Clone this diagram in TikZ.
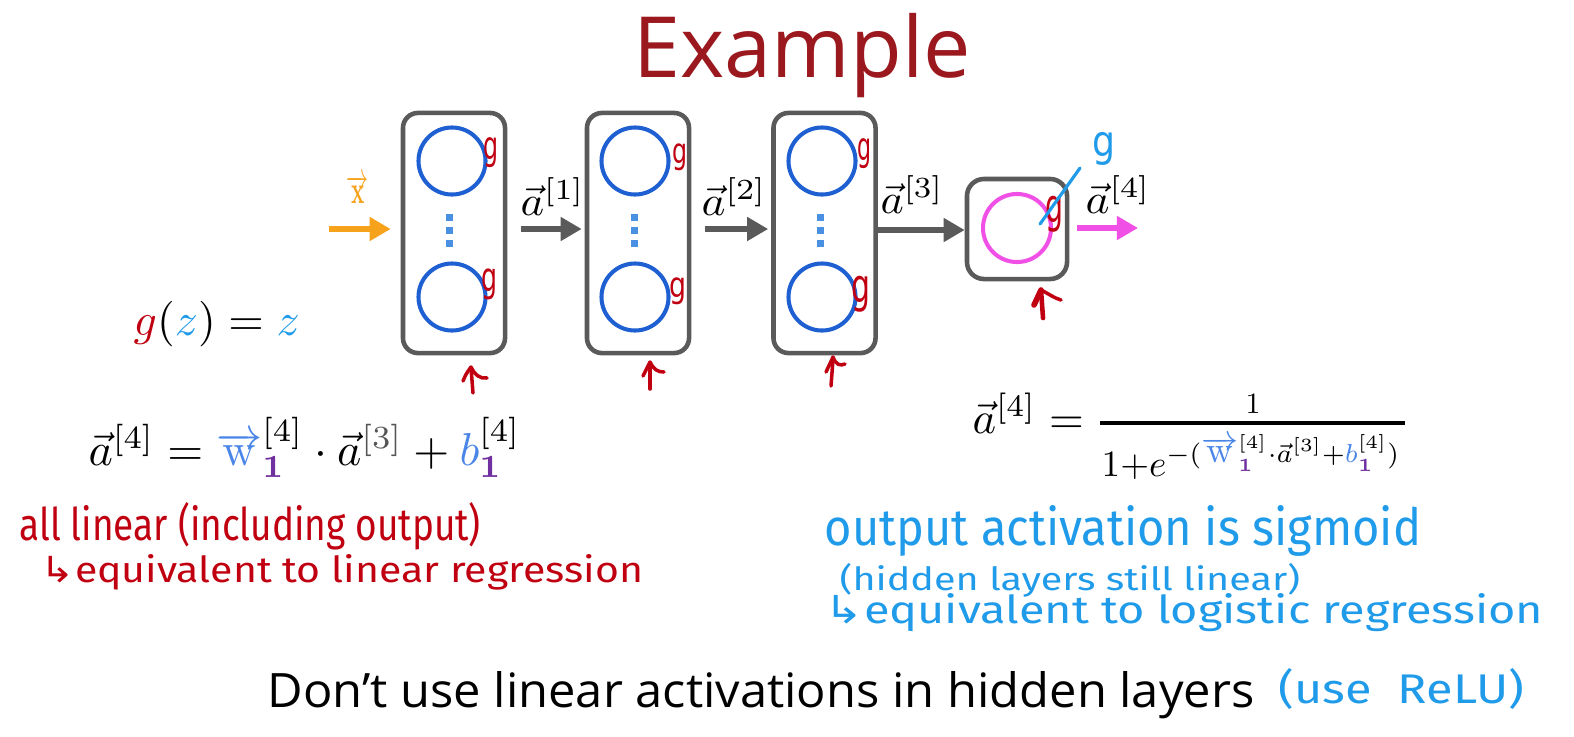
\documentclass[tikz,border=0pt]{standalone}
\usepackage[no-math]{fontspec}
\usepackage{graphicx}
\setmainfont{Open Sans}
\newfontfamily\hand{Fira Sans}
\newfontfamily\dejavu{DejaVu Sans}
\usetikzlibrary{arrows.meta}
\definecolor{titlered}{HTML}{9B191E}
\definecolor{boxgray}{HTML}{5A5A5A}
\definecolor{neublue}{HTML}{1E5FD2}
\definecolor{dotblue}{HTML}{4A90E2}
\definecolor{hred}{HTML}{C00010}
\definecolor{hblue}{HTML}{1F9BEA}
\definecolor{xorange}{HTML}{F7A21B}
\definecolor{magent}{HTML}{F050E6}
\definecolor{wblue}{HTML}{4A86E8}
\definecolor{purp}{HTML}{7030A0}
\definecolor{zblue}{HTML}{1F9BEA}
\definecolor{bgray}{HTML}{555555}
\newcommand{\fitw}[2]{\resizebox{#1}{!}{#2}}
\newcommand{\fitwh}[3]{\resizebox{#1}{#2}{#3}}
\newcommand{\fitwt}[3]{\resizebox*{#1}{#2}{#3}}
\newcommand{\wvec}{\textcolor{wblue}{\overrightarrow{\mathrm{w}}}}
\newcommand{\one}{\textcolor{purp}{\mathbf{1}}}
\begin{document}
\begin{tikzpicture}[x=0.01cm,y=-0.01cm,
  box/.style={draw=boxgray, line width=1.3pt, rounded corners=0.15cm, inner sep=0pt, minimum width=1.02cm, minimum height=2.40cm},
  neuron/.style={circle, draw=neublue, line width=1.15pt, minimum size=0.67cm, inner sep=0pt},
  arr/.style={line width=1.8pt, -{Triangle[length=6pt,width=6.5pt]}},
  txt/.style={inner sep=0pt, anchor=base west},
  gmark/.style={inner sep=0pt, anchor=north west, text=hred},
  handline/.style={draw=hred, line width=1pt, line cap=round, line join=round}
]
\useasboundingbox (0,0) rectangle (1574,736);
\fill[white] (0,0) rectangle (1574,736);

% title
\node[txt, text=titlered] (title) at (633,77) {\fitw{3.37cm}{Example}};

% boxes
\node[box] (b1) at (454,233) {};
\node[box] (b2) at (638,233) {};
\node[box] (b3) at (824.5,233) {};
\node[box, minimum width=1.0cm, minimum height=1.0cm, rounded corners=0.17cm] (b4) at (1017,229) {};

% neurons
\node[neuron] (c11) at (452,161) {};
\node[neuron] (c12) at (452,297) {};
\node[neuron] (c21) at (635,161) {};
\node[neuron] (c22) at (635,297) {};
\node[neuron] (c31) at (822,161) {};
\node[neuron] (c32) at (822,297) {};
\node[neuron, draw=magent, minimum size=0.68cm] (c4) at (1017,228) {};

% dots
\foreach \xx in {449,634,820}{
  \foreach \yy in {217,230,243}{
    \fill[dotblue] (\xx-3.5,\yy-3.5) rectangle (\xx+3.5,\yy+3.5);
  }
}

% red g marks
\node[gmark] (g11) at (483,137) {\fitwt{0.15cm}{0.30cm}{\dejavu g}};
\node[gmark] (g12) at (481,268) {\fitwt{0.16cm}{0.31cm}{\dejavu g}};
\node[gmark] (g21) at (672,143) {\fitwt{0.15cm}{0.27cm}{\dejavu g}};
\node[gmark] (g22) at (669,277) {\fitwt{0.17cm}{0.27cm}{\dejavu g}};
\node[gmark] (g31) at (857,138) {\fitwt{0.14cm}{0.30cm}{\dejavu g}};
\node[gmark] (g32) at (851,276) {\fitwt{0.19cm}{0.36cm}{\dejavu g}};
\node[gmark] (g4) at (1045,196) {\fitwt{0.18cm}{0.36cm}{\dejavu g}};

% blue g and stroke
\node[gmark, text=hblue] (gb) at (1092,132) {\fitwt{0.23cm}{0.33cm}{\dejavu g}};
\coordinate (sl1) at (1040,224);
\coordinate (sl2) at (1080,168);
\draw[draw=hblue, line width=0.9pt, line cap=round] (sl1) -- (sl2);

% connectors
\coordinate (xin) at (329,229);
\coordinate (aout) at (1138,228);
\draw[arr, xorange, shorten >=0.1cm] (xin) -- (b1.west |- xin);
\draw[arr, boxgray, shorten <=0.14cm, shorten >=0.03cm] (b1.east |- xin) -- (b2.west |- xin);
\draw[arr, boxgray, shorten <=0.14cm, shorten >=0.03cm] (b2.east |- xin) -- (b3.west |- xin);
\draw[arr, boxgray] ([yshift=-0.01cm]b3.east |- xin) -- ([yshift=-0.01cm]b4.west |- xin);
\draw[arr, magent, line width=1.6pt, shorten <=0.08cm] (b4.east |- aout) -- (aout);

% labels on arrows
\node[txt, text=xorange] (lx) at (346,203) {\fitwh{0.22cm}{0.28cm}{$\overrightarrow{\mathbf{x}}$}};
\node[txt] (la1) at (520,215) {\fitwh{0.64cm}{0.37cm}{$\vec{a}^{[1]}$}};
\node[txt] (la2) at (701,215) {\fitwh{0.65cm}{0.37cm}{$\vec{a}^{[2]}$}};
\node[txt] (la3) at (880,213) {\fitwh{0.63cm}{0.37cm}{$\vec{a}^{[3]}$}};
\node[txt] (la4) at (1085,213) {\fitwh{0.65cm}{0.37cm}{$\vec{a}^{[4]}$}};

% red hand arrows under boxes
\draw[handline] (473,393) -- (471,368);
\draw[handline] (463,381) .. controls (466,374) .. (471,367) .. controls (475,375) and (480,379) .. (487,378);
\draw[handline] (650,389) -- (650,363);
\draw[handline] (643,376) .. controls (646,369) .. (650,362) .. controls (654,370) and (658,372) .. (664,372);
\draw[handline] (831,386) -- (833,359);
\draw[handline] (826,372) .. controls (829,365) .. (833,357) .. controls (836,365) and (840,366) .. (845,364);
\draw[handline, line width=1.3pt] (1043,318) -- (1041,290);
\draw[handline, line width=1.6pt] (1034,305) -- (1041,290);
\draw[handline] (1041,290) .. controls (1049,294) and (1054,298) .. (1061,300);

% formulas
\node[txt] (gz) at (133,335) {\fitw{1.66cm}{$\textcolor{hred}{g}(\textcolor{zblue}{z}) = \textcolor{zblue}{z}$}};
\node[txt] (fl) at (88,465) {\fitw{4.32cm}{$\vec{a}^{[4]} = \wvec_{\one}^{[4]} \cdot \vec{a}^{\textcolor{bgray}{[3]}} + \textcolor{wblue}{b}_{\one}^{[4]}$}};

\node[txt] (frl) at (972,433) {\fitw{1.11cm}{$\vec{a}^{[4]} =$}};
\node[inner sep=0pt, anchor=base] (frn) at (1253,413) {\fitwh{0.15cm}{0.19cm}{$1$}};
\coordinate (barl) at (1100,423);
\coordinate (barr) at (1405,423);
\draw[line width=0.9pt] (barl) -- (barr);
\node[txt] (frd) at (1101,476) {\fitw{2.99cm}{$1{+}e^{-(\wvec_{\one}^{[4]}\cdot\vec{a}^{[3]}+\textcolor{wblue}{b}_{\one}^{[4]})}$}};

% handwritten notes
\node[txt, text=hred] (r1) at (19,540) {\fitwh{4.61cm}{0.38cm}{\hand all linear (including output)}};
\node[txt, text=hred] (r2) at (40,582) {\fitwh{6.02cm}{0.28cm}{\hand{\dejavu ↳}equivalent to linear regression}};
\node[txt, text=hblue] (u1) at (824,545) {\fitwh{5.96cm}{0.40cm}{\hand output activation is sigmoid}};
\node[txt, text=hblue] (u2) at (839,590) {\fitwh{4.60cm}{0.27cm}{\hand (hidden layers still linear)}};
\node[txt, text=hblue] (u3) at (824,623) {\fitwh{7.18cm}{0.30cm}{\hand{\dejavu ↳}equivalent to logistic regression}};

% bottom line
\node[txt] (bt) at (267,707) {\fitwh{9.86cm}{0.36cm}{Don’t use linear activations in hidden layers}};
\node[txt, text=hblue] (relu) at (1278,703) {\fitwh{2.45cm}{0.35cm}{\hand (use~~ReLU)}};
\end{tikzpicture}
\end{document}
